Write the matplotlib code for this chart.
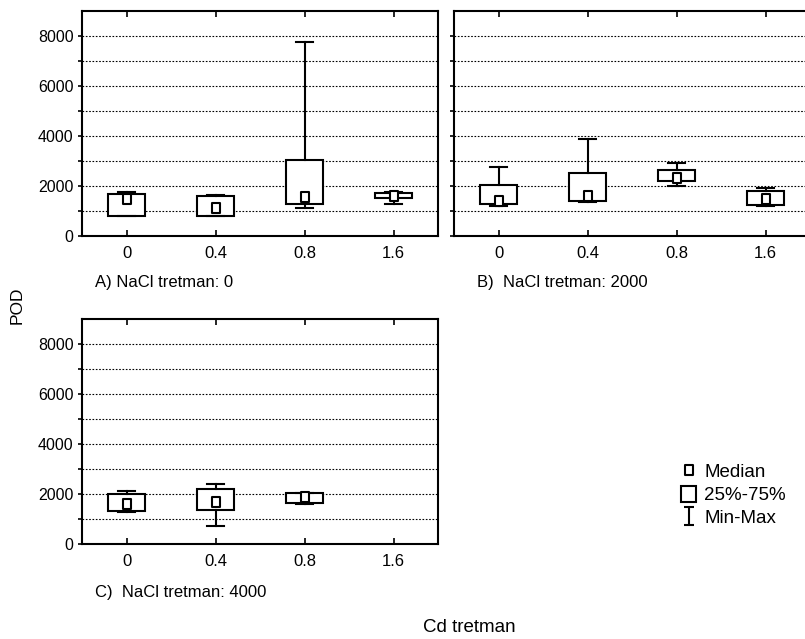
import matplotlib
matplotlib.use("Agg")
import matplotlib.pyplot as plt
from matplotlib.path import Path
from matplotlib.lines import Line2D
from matplotlib.patches import Patch
import numpy as np

plt.rcParams['font.family'] = ['Liberation Sans', 'DejaVu Sans']

categories = ['0', '0.4', '0.8', '1.6']
panel_titles = ['A) NaCl tretman: 0', 'B)  NaCl tretman: 2000', 'C)  NaCl tretman: 4000']

# each series: [min, q1, median, q3, max] per Cd level (None = no data)
nacl_0 = [[790, 800, 1480, 1680, 1750],
          [800, 800, 1120, 1600, 1650],
          [1130, 1290, 1580, 3030, 7770],
          [1280, 1510, 1610, 1710, 1780]]
nacl_2000 = [[1210, 1290, 1400, 2060, 2750],
             [1370, 1400, 1620, 2530, 3880],
             [2000, 2220, 2340, 2660, 2920],
             [1220, 1240, 1470, 1810, 1920]]
nacl_4000 = [[1290, 1330, 1600, 2000, 2140],
             [720, 1350, 1670, 2200, 2420],
             [1620, 1650, 1900, 2050, 2060],
             None]

W, H = 805, 639
fig = plt.figure(figsize=(W / 100, H / 100), dpi=100)

def ax_rect(x0, y0, x1, y1):
    return [x0 / W, 1 - y1 / H, (x1 - x0) / W, (y1 - y0) / H]

axes = [fig.add_axes(ax_rect(82, 11, 438, 236)),
        fig.add_axes(ax_rect(454, 11, 810, 236)),
        fig.add_axes(ax_rect(82, 319, 438, 544))]

med_marker = Path([(-0.75, -1), (0.75, -1), (0.75, 1), (-0.75, 1), (-0.75, -1)],
                  [Path.MOVETO, Path.LINETO, Path.LINETO, Path.LINETO, Path.CLOSEPOLY])

datasets = [nacl_0, nacl_2000, nacl_4000]
for k, (ax, data) in enumerate(zip(axes, datasets)):
    stats, pos = [], []
    for i, d in enumerate(data):
        if d is None:
            continue
        mn, q1, md, q3, mx = d
        stats.append(dict(whislo=mn, q1=q1, med=md, q3=q3, whishi=mx, mean=md, fliers=[]))
        pos.append(i)
    ax.bxp(stats, positions=pos, widths=0.41, capwidths=0.2, patch_artist=True,
           showmeans=True, showfliers=False,
           boxprops=dict(facecolor='white', edgecolor='black', linewidth=1.5),
           whiskerprops=dict(color='black', linewidth=1.5),
           capprops=dict(color='black', linewidth=1.5),
           medianprops=dict(linewidth=0),
           meanprops=dict(marker=med_marker, markerfacecolor='white', markeredgecolor='black',
                          markersize=7.5, markeredgewidth=1.5, linestyle='none'),
           zorder=3)
    ax.set_xlim(-0.5, 3.5)
    ax.set_ylim(0, 9000)
    ax.set_xticks(range(len(categories)))
    ax.set_xticklabels(categories, fontsize=12)
    ax.set_yticks(np.arange(0, 9000, 2000))
    ax.set_yticks(np.arange(1000, 9000, 2000), minor=True)
    if k == 1:
        ax.set_yticklabels([])
    else:
        ax.set_yticklabels([str(v) for v in range(0, 9000, 2000)], fontsize=11.5)
    for yv in range(1000, 9000, 1000):
        ax.axhline(yv, color='black', linewidth=0.8, linestyle=(0, (1.5, 1.5)), zorder=1)
    ax.tick_params(axis='x', direction='in', top=True, bottom=True, length=4, width=1.2, pad=7)
    ax.tick_params(axis='y', which='both', direction='out', length=3, width=1.2, pad=3)
    for s in ax.spines.values():
        s.set_linewidth(1.5)
    ax.set_facecolor('white')

fig.text(95 / W, 1 - 283 / H, panel_titles[0], fontsize=12, ha='left', va='center')
fig.text(477 / W, 1 - 283 / H, panel_titles[1], fontsize=12, ha='left', va='center')
fig.text(95 / W, 1 - 593 / H, panel_titles[2], fontsize=12, ha='left', va='center')
fig.text(17 / W, 1 - 305 / H, 'POD', fontsize=12.5, rotation=90, ha='center', va='center')
fig.text(423 / W, 1 - 628 / H, 'Cd tretman', fontsize=13.5, ha='left', va='center')

imax_path = Path([(-0.5, -1), (0.5, -1), (0, -1), (0, 1), (-0.5, 1), (0.5, 1)],
                 [Path.MOVETO, Path.LINETO, Path.MOVETO, Path.LINETO, Path.MOVETO, Path.LINETO])
handles = [Line2D([], [], marker=med_marker, linestyle='none', markerfacecolor='white',
                  markeredgecolor='black', markersize=7.5, markeredgewidth=1.5),
           Patch(facecolor='white', edgecolor='black', linewidth=1.5),
           Line2D([], [], marker=imax_path, linestyle='none', color='black',
                  markersize=13, markeredgewidth=1.5)]
labels = ['Median', '25%-75%', 'Min-Max']
fig.legend(handles, labels, loc='upper left', bbox_to_anchor=(681 / W, 1 - 463 / H),
           frameon=False, fontsize=13.5, handlelength=0.8, handleheight=0.9,
           handletextpad=0.43, labelspacing=0.25, borderpad=0, borderaxespad=0)

fig.savefig('out.png', dpi=100, facecolor='white')
